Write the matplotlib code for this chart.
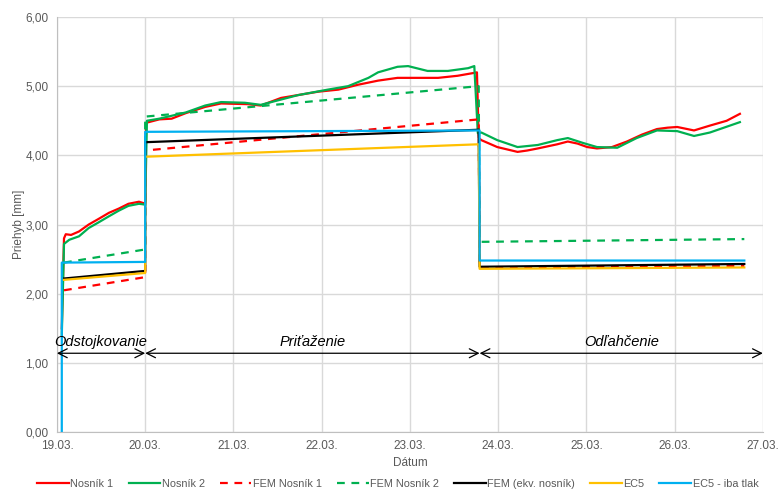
import matplotlib.pyplot as plt

plt.rcParams["font.family"] = ["Liberation Sans", "DejaVu Sans"]

# x in days from 19.03.
day_labels = ["19.03.", "20.03.", "21.03.", "22.03.", "23.03.", "24.03.",
              "25.03.", "26.03.", "27.03."]

# measured deflection, beam 1
n1_x = [0.055, 0.08, 0.10, 0.16, 0.25, 0.36, 0.47, 0.59, 0.70, 0.81, 0.93, 0.98,
        1.00, 1.01, 1.16, 1.30, 1.46, 1.68, 1.86, 2.16, 2.31, 2.54, 2.96, 3.19,
        3.41, 3.64, 3.86, 4.09, 4.32, 4.54, 4.72, 4.76, 4.78, 4.81, 4.99, 5.22,
        5.33, 5.45, 5.67, 5.79, 5.90, 6.01, 6.12, 6.29, 6.46, 6.63, 6.80, 6.92,
        7.03, 7.22, 7.40, 7.59, 7.74]
n1_y = [1.50, 2.80, 2.86, 2.85, 2.90, 3.00, 3.08, 3.17, 3.23, 3.30, 3.33, 3.31,
        3.31, 4.47, 4.52, 4.53, 4.61, 4.70, 4.75, 4.74, 4.72, 4.83, 4.92, 4.95,
        5.02, 5.08, 5.12, 5.12, 5.12, 5.15, 5.19, 5.20, 4.25, 4.22, 4.12, 4.05,
        4.07, 4.10, 4.16, 4.20, 4.17, 4.12, 4.10, 4.12, 4.20, 4.30, 4.38, 4.40,
        4.41, 4.36, 4.43, 4.50, 4.60]

# measured deflection, beam 2
n2_x = [0.055, 0.08, 0.14, 0.25, 0.36, 0.47, 0.59, 0.70, 0.81, 0.93, 0.99,
        1.00, 1.02, 1.16, 1.46, 1.68, 1.86, 2.13, 2.31, 2.73, 3.07, 3.30, 3.53,
        3.64, 3.86, 3.98, 4.20, 4.43, 4.66, 4.73, 4.77, 4.81, 4.99, 5.22, 5.45,
        5.67, 5.79, 5.96, 6.12, 6.35, 6.57, 6.80, 7.03, 7.22, 7.40, 7.74]
n2_y = [1.40, 2.72, 2.78, 2.83, 2.95, 3.03, 3.12, 3.20, 3.27, 3.30, 3.29,
        3.28, 4.50, 4.53, 4.62, 4.72, 4.77, 4.76, 4.73, 4.87, 4.95, 5.00, 5.12,
        5.20, 5.28, 5.29, 5.22, 5.22, 5.26, 5.29, 4.32, 4.33, 4.22, 4.12, 4.15,
        4.22, 4.25, 4.18, 4.12, 4.11, 4.25, 4.36, 4.35, 4.28, 4.33, 4.48]

# model lines: phase breakpoints (start/end of each loading stage)
fem_x = [0.08, 1.00, 1.00, 4.78, 4.79, 7.79]
fem1_y = [2.05, 2.24, 4.07, 4.52, 2.38, 2.40]
fem2_y = [2.45, 2.64, 4.56, 5.00, 2.75, 2.79]
fem_ekv_y = [2.22, 2.33, 4.19, 4.37, 2.39, 2.43]
ec5_x = [0.07, 1.00, 1.00, 4.78, 4.79, 7.79]
ec5_y = [2.20, 2.30, 3.98, 4.16, 2.36, 2.38]
ec5_tlak_x = [0.055, 0.055, 1.00, 1.00, 4.79, 4.79, 7.79]
ec5_tlak_y = [0.00, 2.45, 2.46, 4.34, 4.36, 2.48, 2.48]

# loading stages
stage_names = ["Odstojkovanie", "Priťaženie", "Odľahčenie"]
stage_bounds = [(0.0, 1.0), (1.0, 4.79), (4.79, 8.0)]

red = "#FF0000"
green = "#00B050"
yellow = "#FFC000"
blue = "#00B0F0"
grey = "#595959"

fig = plt.figure(figsize=(7.8, 4.99), dpi=100)
ax = fig.add_axes([0.073, 0.134, 0.905, 0.832])

lw = 1.6
ax.plot(n1_x, n1_y, color=red, lw=lw, label="Nosník 1")
ax.plot(n2_x, n2_y, color=green, lw=lw, label="Nosník 2")
ax.plot(fem_x, fem1_y, color=red, lw=lw, ls=(0, (3.5, 3)), label="FEM Nosník 1")
ax.plot(fem_x, fem2_y, color=green, lw=lw, ls=(0, (3.5, 3)), label="FEM Nosník 2")
ax.plot(fem_x, fem_ekv_y, color="black", lw=lw, label="FEM (ekv. nosník)")
ax.plot(ec5_x, ec5_y, color=yellow, lw=lw, label="EC5")
ax.plot(ec5_tlak_x, ec5_tlak_y, color=blue, lw=lw, label="EC5 - iba tlak")

# stage arrows and names
for name, (a, b) in zip(stage_names, stage_bounds):
    ax.annotate("", xy=(a, 1.14), xytext=(b, 1.14),
                arrowprops=dict(arrowstyle="<->", color="black", lw=0.9,
                                shrinkA=0, shrinkB=0, mutation_scale=16))
    ax.text((a + b) / 2, 1.2, name, ha="center", va="bottom",
            fontsize=10.5, style="italic", color="black")

ax.set_xlim(0, 8)
ax.set_ylim(0, 6)
ax.set_xticks(range(len(day_labels)))
ax.set_xticklabels(day_labels)
ax.set_yticks([0, 1, 2, 3, 4, 5, 6])
ax.set_yticklabels(["0,00", "1,00", "2,00", "3,00", "4,00", "5,00", "6,00"])
ax.tick_params(length=0, labelsize=8.5, colors=grey, pad=6)

ax.grid(True, color="#D9D9D9", lw=1)
ax.set_axisbelow(True)
for s in ["top", "right"]:
    ax.spines[s].set_visible(False)
for s in ["left", "bottom"]:
    ax.spines[s].set_color("#BFBFBF")

ax.set_xlabel("Dátum", fontsize=8.5, color=grey, labelpad=3)
ax.set_ylabel("Priehyb [mm]", fontsize=8.5, color=grey, labelpad=0)

fig.legend(loc="lower center", bbox_to_anchor=(0.51, 0.0), ncol=7,
           frameon=False, fontsize=7.8, handlelength=2.9, handletextpad=0.15,
           columnspacing=1.4, labelcolor=grey)

fig.savefig("out.png", dpi=100)
